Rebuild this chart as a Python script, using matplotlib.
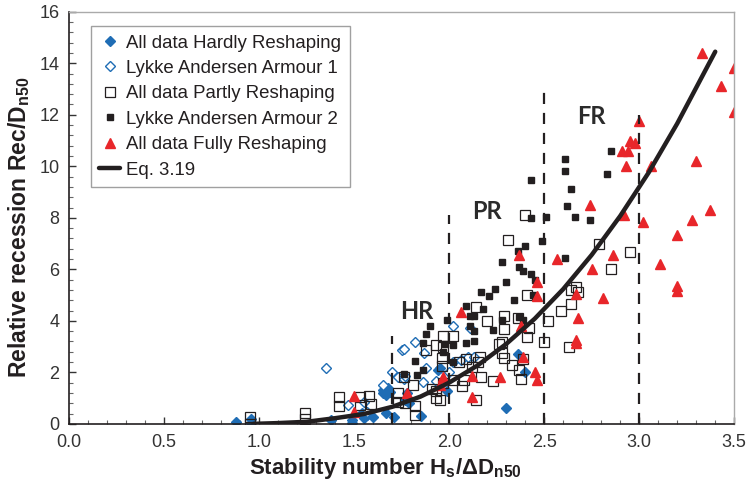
"""Relative recession against stability number for berm breakwater tests."""

import matplotlib

matplotlib.use("Agg")

import matplotlib.pyplot as plt
from matplotlib.ticker import MultipleLocator


BLUE = "#1F6DB5"
RED = "#E8262A"
INK = "#231F20"

# All data Hardly Reshaping (filled blue diamonds)
hardly_x = [0.88, 0.96, 0.96, 1.38, 1.49, 1.49, 1.54, 1.55, 1.57, 1.60, 1.65, 1.65, 1.67, 1.67,
            1.68, 1.69, 1.71, 1.77, 1.79, 1.78, 1.85, 1.94, 1.95, 1.99, 2.30, 2.36, 2.40]
hardly_y = [0.08, 0.20, 0.05, 0.16, 0.16, 0.05, 0.43, 0.23, 0.35, 0.27, 1.20, 1.33, 1.13, 0.43,
            1.40, 1.25, 0.27, 0.94, 0.82, 1.21, 0.31, 2.10, 2.15, 1.27, 0.62, 2.73, 2.03]

# Lykke Andersen Armour 1 (open blue diamonds)
armour1_x = [1.35, 1.47, 1.55, 1.57, 1.65, 1.70, 1.73, 1.75, 1.76, 1.77, 1.76, 1.82, 1.86, 1.87,
             1.88, 1.93, 2.00, 2.02, 2.02, 2.06, 2.10, 2.11, 2.13]
armour1_y = [2.15, 0.74, 0.86, 0.47, 1.52, 2.03, 1.80, 2.85, 1.76, 1.84, 2.89, 3.16, 1.62, 2.75,
             2.17, 1.68, 2.00, 3.79, 2.42, 2.46, 2.58, 3.71, 2.60]

# All data Partly Reshaping (open black squares)
partly_x = [0.95, 0.95, 1.24, 1.24, 1.42, 1.42, 1.53, 1.53, 1.58, 1.59, 1.73, 1.73, 1.76, 1.77,
            1.81, 1.82, 1.82, 1.88, 1.91, 1.93, 1.93, 1.93, 1.95, 1.96, 1.96, 1.97, 1.97, 1.97,
            2.02, 2.02, 2.05, 2.07, 2.08, 2.09, 2.12, 2.14, 2.14, 2.15, 2.16, 2.17, 2.20, 2.23,
            2.26, 2.28, 2.28, 2.29, 2.29, 2.29, 2.31, 2.33, 2.36, 2.37, 2.38, 2.39, 2.40, 2.41,
            2.41, 2.42, 2.50, 2.52, 2.59, 2.63, 2.64, 2.64, 2.67, 2.68, 2.79, 2.85, 2.95]
partly_y = [0.00, 0.27, 0.20, 0.43, 1.05, 0.70, 1.05, 0.74, 1.10, 0.78, 1.20, 0.85, 1.80, 0.82,
            1.50, 0.70, 0.35, 2.85, 1.37, 3.05, 1.29, 1.00, 0.94, 2.54, 2.23, 3.40, 3.00, 1.60,
            3.40, 1.72, 2.42, 1.48, 1.72, 2.50, 2.20, 4.53, 0.94, 2.42, 2.60, 1.80, 3.98, 1.68,
            3.09, 3.16, 2.77, 4.18, 3.67, 2.54, 7.15, 2.30, 4.10, 2.10, 1.76, 2.50, 8.10, 5.00,
            3.36, 3.71, 3.16, 3.98, 4.40, 3.00, 5.20, 4.65, 5.30, 5.10, 7.00, 6.00, 6.68]

# Lykke Andersen Armour 2 (small filled black squares)
armour2_x = [1.76, 1.83, 1.82, 1.86, 1.86, 1.88, 1.90, 1.97, 1.98, 1.99, 2.02, 2.02, 2.09, 2.09,
             2.11, 2.11, 2.13, 2.13, 2.13, 2.17, 2.18, 2.21, 2.23, 2.24, 2.28, 2.28, 2.30, 2.34,
             2.36, 2.37, 2.37, 2.39, 2.39, 2.40, 2.43, 2.43, 2.43, 2.44, 2.45, 2.49, 2.51, 2.61,
             2.61, 2.61, 2.62, 2.64, 2.66, 2.74, 2.83, 2.85]
armour2_y = [1.95, 1.90, 2.45, 3.15, 2.10, 3.50, 3.80, 2.80, 3.10, 4.05, 3.05, 2.40, 4.57, 3.15,
             4.20, 3.80, 4.20, 3.60, 3.20, 5.10, 4.45, 4.97, 3.65, 5.25, 6.30, 4.05, 5.50, 4.80,
             6.70, 6.10, 4.15, 5.95, 4.05, 6.90, 9.45, 8.00, 5.80, 5.00, 5.60, 7.10, 8.05, 10.3,
             9.80, 6.45, 8.45, 9.10, 8.05, 7.90, 9.70, 10.6]

# All data Fully Reshaping (red triangles)
fully_x = [1.50, 1.50, 1.78, 1.95, 1.97, 2.06, 2.12, 2.12, 2.27, 2.37, 2.38, 2.39, 2.45, 2.46,
           2.46, 2.46, 2.57, 2.67, 2.67, 2.67, 2.68, 2.74, 2.75, 2.81, 2.86, 2.91, 2.92, 2.93,
           2.94, 2.95, 2.98, 3.00, 3.02, 3.06, 3.11, 3.20, 3.20, 3.20, 3.28, 3.30, 3.33, 3.37,
           3.43, 3.50, 3.50]
fully_y = [1.10, 0.47, 1.20, 1.50, 1.80, 4.35, 1.85, 1.05, 1.80, 6.55, 3.80, 2.60, 2.00, 1.70,
           5.50, 4.97, 6.40, 5.05, 3.25, 3.15, 4.10, 8.50, 6.00, 4.90, 6.55, 10.6, 8.10, 10.0,
           10.6, 10.98, 10.9, 11.75, 7.85, 10.0, 6.20, 7.35, 5.35, 5.15, 7.90, 10.2, 14.4, 8.30,
           13.1, 13.8, 12.1]

# Eq. 3.19 curve
eq_x = [0.97, 1.10, 1.25, 1.40, 1.55, 1.70, 1.85, 2.00, 2.15, 2.30, 2.45, 2.60, 2.75, 2.90,
        3.05, 3.20, 3.40]
eq_y = [0.00, 0.03, 0.08, 0.22, 0.38, 0.66, 1.06, 1.60, 2.27, 3.10, 4.08, 5.23, 6.56, 8.07,
        9.76, 11.66, 14.45]

# Region boundaries (x, top of dashed line) and labels
boundary_x = [1.7, 2.0, 2.5, 3.0]
boundary_top = [3.4, 8.1, 13.1, 12.0]
region_labels = ["HR", "PR", "FR"]
region_x = [1.83, 2.2, 2.75]
region_y = [4.35, 8.25, 11.95]


def main() -> None:
    """Draw the recession chart and save it."""
    plt.rcParams["font.family"] = ["Liberation Sans", "DejaVu Sans"]
    plt.rcParams["mathtext.fontset"] = "custom"
    plt.rcParams["mathtext.rm"] = "Liberation Sans:bold"
    plt.rcParams["mathtext.default"] = "rm"

    fig = plt.figure(figsize=(7.5, 4.9), dpi=100)
    ax = fig.add_axes([0.092, 0.135, 0.887, 0.841])

    ax.plot(hardly_x, hardly_y, linestyle="none", marker="D", ms=5.5,
            color=BLUE, mec=BLUE, label="All data Hardly Reshaping")
    ax.plot(armour1_x, armour1_y, linestyle="none", marker="D", ms=5.5,
            mfc="white", mec=BLUE, mew=1.0, label="Lykke Andersen Armour 1")
    ax.plot(partly_x, partly_y, linestyle="none", marker="s", ms=7.5,
            mfc="none", mec=INK, mew=0.9, label="All data Partly Reshaping")
    ax.plot(armour2_x, armour2_y, linestyle="none", marker="s", ms=3.8,
            color=INK, label="Lykke Andersen Armour 2")
    ax.plot(fully_x, fully_y, linestyle="none", marker="^", ms=7,
            color=RED, mec=RED, label="All data Fully Reshaping")
    ax.plot(eq_x, eq_y, color=INK, lw=3.2, solid_capstyle="round", label="Eq. 3.19")

    for bx, top in zip(boundary_x, boundary_top):
        ax.plot([bx, bx], [0, top], color=INK, lw=1.6, dashes=(5, 4))
    for text, tx, ty in zip(region_labels, region_x, region_y):
        ax.text(tx, ty, text, ha="center", va="center", fontsize=17,
                fontweight="bold", color="#2b2b2b", family=["Lato", "DejaVu Sans"])

    ax.set_xlim(0, 3.5)
    ax.set_ylim(0, 16)
    ax.xaxis.set_major_locator(MultipleLocator(0.5))
    ax.xaxis.set_minor_locator(MultipleLocator(0.1))
    ax.yaxis.set_major_locator(MultipleLocator(2))
    ax.yaxis.set_minor_locator(MultipleLocator(0.4))
    ax.xaxis.set_major_formatter(lambda v, pos: f"{v:.1f}")
    ax.tick_params(which="major", direction="in", length=5, width=1, labelsize=13,
                   colors="#333333", pad=7)
    ax.tick_params(which="minor", direction="in", length=3, width=0.8, color="#666666")
    ax.tick_params(top=False, right=False, which="both")

    for side in ("top", "right"):
        ax.spines[side].set_color("#aaaaaa")
        ax.spines[side].set_linewidth(1)
    for side in ("left", "bottom"):
        ax.spines[side].set_color(INK)
        ax.spines[side].set_linewidth(1.2)

    label_font = {"fontweight": "bold", "color": INK,
                  "family": ["Liberation Sans Narrow", "Liberation Sans", "DejaVu Sans"]}
    ax.set_xlabel(r"Stability number H$_s$/ΔD$_{n50}$", fontsize=16, **label_font)
    ax.set_ylabel(r"Relative recession Rec/D$_{n50}$", fontsize=16.5, **label_font)
    ax.xaxis.set_label_coords(0.476, -0.078)
    ax.yaxis.set_label_coords(-0.056, 0.478)

    legend = ax.legend(loc="upper left", bbox_to_anchor=(0.033, 0.965), fontsize=13.4,
                       frameon=True, fancybox=False, handlelength=1.1, handletextpad=0.35,
                       labelspacing=0.45, borderpad=0.45, borderaxespad=0)
    legend.get_frame().set_edgecolor("#888888")
    legend.get_frame().set_linewidth(1)
    for text in legend.get_texts():
        text.set_color(INK)

    fig.savefig("out.png", dpi=100)
    plt.close(fig)


if __name__ == "__main__":
    main()
